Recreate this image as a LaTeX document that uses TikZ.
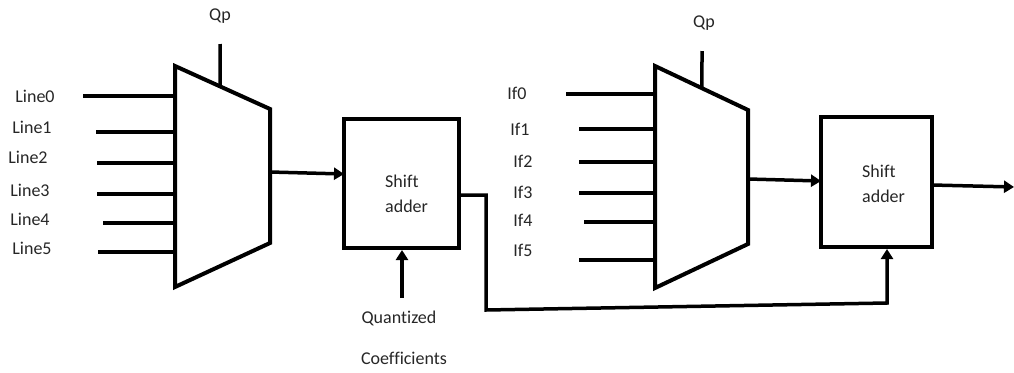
\documentclass[tikz,border=0pt]{standalone}
\usepackage{fontspec}
\setmainfont[Ligatures=CommonOff]{Carlito}
\usetikzlibrary{arrows.meta,calc}
\begin{document}
\begin{tikzpicture}[x=1pt,y=-1pt,
  wire/.style={line width=3.5pt},
  arr/.style={wire,-{Triangle[length=10pt,width=12pt]}},
  lbl/.style={font=\fontsize{18}{25}\selectfont, inner sep=0pt, align=left, text=black!85},
  blk/.style={draw, line width=4pt, rectangle, inner sep=0pt},
  muxshape/.style={line width=4pt, line join=miter}]
\useasboundingbox (0,0) rectangle (1014,372);

% ---- first multiplexer ----
\coordinate (m1tl) at (175,66);
\coordinate (m1tr) at (270,109);
\coordinate (m1br) at (270,243);
\coordinate (m1bl) at (175,287);
\draw[muxshape] (m1tl) -- (m1tr) -- (m1br) -- (m1bl) -- cycle;
\coordinate (m1q) at ($(m1tl)!0.474!(m1tr)$);
\coordinate (q1top) at (220,44);
\draw[wire] (q1top) -- (m1q);
\node[lbl] (qp1) at (220,16) {Qp};

% inputs of the first multiplexer
\foreach \i/\y/\xs/\lx/\ly in {0/96/83/35/96, 1/132/96/32/127, 2/163/97/28/157,
                               3/194/97/30/190, 4/223/103/30/219, 5/252/98/32/248}{
  \coordinate (l\i s) at (\xs,\y);
  \coordinate (l\i e) at (175,\y);
  \draw[wire] (l\i s) -- (l\i e);
  \node[lbl] (line\i) at (\lx,\ly) {Line\i};
}

% ---- first shift adder ----
\node[blk, minimum width=115pt, minimum height=129pt] (b1) at (401.5,183.5) {};
\node[lbl, anchor=west] (b1t) at (385,194) {Shift\\adder};
\coordinate (m1o) at (270,172);
\coordinate (b1i) at (344,174);
\draw[arr] (m1o) -- (b1i);

% coefficient input
\coordinate (qcs) at (402,298);
\draw[arr] (qcs) -- (b1.south -| qcs);
\node[lbl] (qc1) at (399,318) {Quantized};
\node[lbl] (qc2) at (404,358) {Coefficients};

% ---- second multiplexer ----
\coordinate (m2tl) at (655,66);
\coordinate (m2tr) at (748,110);
\coordinate (m2br) at (748,244);
\coordinate (m2bl) at (655,288);
\draw[muxshape] (m2tl) -- (m2tr) -- (m2br) -- (m2bl) -- cycle;
\coordinate (m2q) at ($(m2tl)!0.505!(m2tr)$);
\coordinate (q2top) at (702,51);
\draw[wire] (q2top) -- (m2q);
\node[lbl] (qp2) at (704,23) {Qp};

\foreach \i/\y/\xs/\lx/\ly in {0/94/566/517/93, 1/129/579/520/129, 2/162/579/523/161,
                               3/193/579/523/192, 4/222/584/523/220, 5/260/579/523/250}{
  \coordinate (f\i s) at (\xs,\y);
  \coordinate (f\i e) at (655,\y);
  \draw[wire] (f\i s) -- (f\i e);
  \node[lbl] (if\i) at (\lx,\ly) {If\i};
}

% ---- second shift adder ----
\node[blk, minimum width=111pt, minimum height=130pt] (b2) at (876.5,182) {};
\node[lbl, anchor=west] (b2t) at (862,184) {Shift\\adder};
\coordinate (m2o) at (748,179);
\coordinate (b2i) at (821,181);
\draw[arr] (m2o) -- (b2i);

% output of the second shift adder
\coordinate (b2o) at (932,185);
\coordinate (out) at (1014,187);
\draw[arr] (b2o) -- (out);

% feedback from first shift adder into the second one
\coordinate (fb0) at (459,195);
\coordinate (fb1) at (486,195);
\coordinate (fb2) at (486,310);
\coordinate (fb3) at (887,303);
\draw[arr, line join=miter] (fb0) -- (fb1) -- (fb2) -- (fb3) -- (b2.south -| fb3);
\end{tikzpicture}
\end{document}
